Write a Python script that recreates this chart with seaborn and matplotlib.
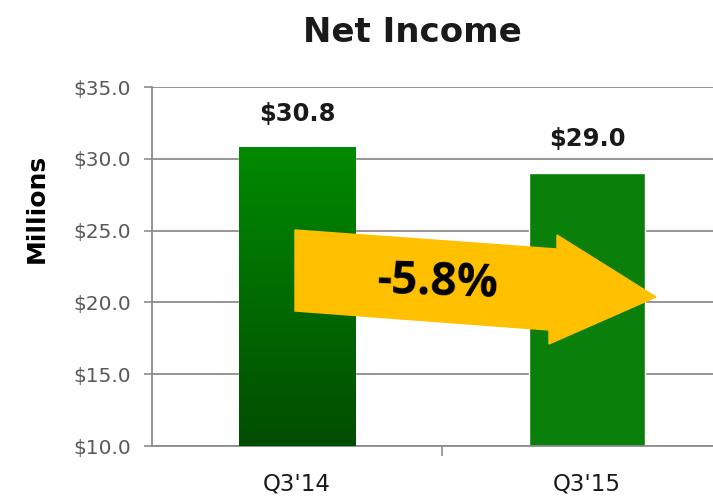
import numpy as np
import pandas as pd
import seaborn as sns
from matplotlib import pyplot as plt
from matplotlib.patches import Polygon
import matplotlib.ticker as ticker

# data
quarters = ["Q3'14", "Q3'15"]
income = [30.8, 29.0]
value_labels = ['$30.8', '$29.0']
change_label = '-5.8%'

sns.set_style('white')
plt.rcParams['font.family'] = ['DejaVu Sans']

df = pd.DataFrame({'quarter': quarters, 'income': income})

fig = plt.figure(figsize=(7.13, 4.99), dpi=100)
ax = fig.add_axes([0.2132, 0.1062, 0.8135, 0.7194])

sns.barplot(data=df, x='quarter', y='income', ax=ax, width=0.4,
            color='#0a800a', saturation=1, zorder=2)
ax.set_xlim(-0.5, 1.5)
ax.set_ylim(10, 35)

# gradient on the first bar (dark at the bottom)
bar = ax.patches[0]
bx, bw = bar.get_x(), bar.get_width()
grad = np.linspace(0, 1, 256).reshape(-1, 1)
cmap = sns.blend_palette(['#004d00', '#008a00'], as_cmap=True)
ax.imshow(grad, cmap=cmap, origin='lower', aspect='auto',
          extent=[bx, bx + bw, 10, income[0]], zorder=3)
ax.set_xlim(-0.5, 1.5)
ax.set_ylim(10, 35)

# value labels
for i, (v, lab) in enumerate(zip(income, value_labels)):
    ax.text(i, v + 2.35, lab, ha='center', va='center', fontsize=17.5,
            fontweight='bold', color='#1a1a1a')

# axes styling
ax.yaxis.set_major_locator(ticker.MultipleLocator(5))
ax.yaxis.set_major_formatter(ticker.FuncFormatter(lambda v, p: f'${v:.1f}'))
ax.grid(axis='y', color='#8c8c8c', linewidth=1.3, zorder=0)
ax.set_axisbelow(True)
for s in ['top', 'right']:
    ax.spines[s].set_visible(False)
for s in ['left', 'bottom']:
    ax.spines[s].set_color('#8c8c8c')
    ax.spines[s].set_linewidth(1.3)
ax.tick_params(axis='y', which='major', length=6, width=1.2, color='#8c8c8c',
               direction='out', labelsize=14.5, labelcolor='#595959', pad=9, left=True)
ax.tick_params(axis='x', which='major', length=0, labelsize=16.5, labelcolor='#1a1a1a', pad=19)
ax.xaxis.set_minor_locator(ticker.FixedLocator([0.5]))
ax.tick_params(axis='x', which='minor', length=7, width=1.2, color='#8c8c8c',
               direction='out', bottom=True)
ax.set_xlabel('')
ax.set_ylabel('')

W, H = 713, 499
fig.text(37 / W, 1 - 208 / H, 'Millions', rotation=90, ha='center', va='center',
         fontsize=18, fontweight='bold', color='black')
fig.text(412 / W, 1 - 33 / H, 'Net Income', ha='center', va='center', fontsize=24.5,
         fontweight='bold', color='#1a1a1a')

# yellow arrow annotation (pixel outline converted to figure fraction)
arrow_px = [(295, 230), (557, 249), (557, 235), (656, 297),
            (549, 344), (549, 330), (295, 311)]
arrow = Polygon([(x / W, 1 - y / H) for x, y in arrow_px], closed=True,
                transform=fig.transFigure, facecolor='#ffc000',
                edgecolor='#ffc000', zorder=5)
fig.add_artist(arrow)
fig.text(438 / W, 1 - 283 / H, change_label, ha='center', va='center',
         fontsize=33, fontweight='bold', color='black', rotation=-2, zorder=6,
         family=['Open Sans', 'DejaVu Sans'])

fig.savefig('out.png', dpi=100)
